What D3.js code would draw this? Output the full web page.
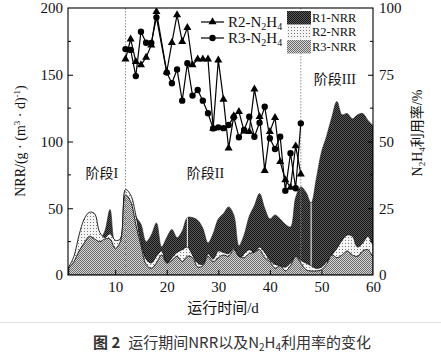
<!DOCTYPE html>
<html>
<head>
<meta charset="utf-8">
<script src="https://cdn.jsdelivr.net/npm/d3@7"></script>
<style>
  body { margin: 0; background: #fff; }
  svg { display: block; }
  .serif { font-family: "Liberation Serif", "DejaVu Serif", "Noto Sans CJK SC", serif; }
</style>
</head>
<body>
<svg id="chart" width="441" height="359"></svg>
<script>
// ---- data ----
const days = d3.range(1, 61);
const r1Nrr = [6, 12, 20, 28, 33, 32, 27, 33, 49, 24,
  27, 64, 56, 44, 38, 25, 30, 39, 21, 28,
  34, 28, 33, 43, 43, 41, 35, 24, 31, 42,
  46, 51, 45, 22, 30, 44, 52, 61, 50, 42,
  45, 42, 38, 36, 58, 66, 62, 54, 72, 92,
  104, 118, 130, 120, 121, 117, 120, 121, 116, 112];
const r2Nrr = [6, 14, 30, 42, 47, 46, 32, 28, 31, 26,
  27, 64, 60, 45, 25, 12, 9, 14, 18, 9,
  13, 17, 19, 21, 15, 9, 8, 16, 12, 18,
  17, 16, 20, 12, 16, 19, 17, 21, 17, 11,
  8, 7, 6, 9, 14, 11, 9, 7, 5, 6,
  10, 15, 20, 26, 30, 29, 21, 24, 29, 22];
const r3Nrr = [5, 10, 18, 24, 29, 27, 25, 27, 27, 20,
  25, 60, 55, 38, 22, 8, 5, 9, 15, 9,
  11, 14, 10, 14, 13, 6, 7, 14, 10, 13,
  15, 14, 19, 14, 13, 16, 17, 19, 13, 10,
  5, 7, 3, 7, 14, 9, 4, 3, 3, 4,
  8, 15, 13, 15, 18, 15, 14, 18, 19, 13];

const useDays = [12, 13, 14, 15, 16, 17, 18, 20, 21, 22, 23, 24, 25, 26, 27, 28, 29,
  30, 31, 32, 33, 34, 35, 36, 37, 38, 39, 40, 41, 42, 43, 44, 45, 46];
const r2Use = [80.8, 88.3, 79.9, 78.7, 81.5, 86.1, 98.6, 76.1, 87.0, 97.4, 87.4, 92.6, 78.7, 80.8, 80.8, 80.8, 54.9,
  80.5, 65.8, 47.5, 59.6, 61.2, 53.9, 53.7, 69.6, 59.3, 39.1, 53.7, 58.9, 42.4, 35.6, 32.8, 48.3, 37.8];
const r3Use = [84.6, 84.3, 74.5, 91.1, 87.0, 86.9, 96.5, 75.8, 71.8, 77.0, 65.3, 79.3, 67.2, 69.3, 65.3, 60.6, 54.9,
  55.3, 55.0, 56.2, 59.1, 51.6, 54.3, 59.3, 51.8, 57.0, 63.0, 51.2, 47.2, 51.8, 31.6, 45.6, 32.5, 56.8];

const xTicks = [10, 20, 30, 40, 50, 60];
const nrrTicks = [0, 50, 100, 150, 200];
const nrrMinor = [25, 75, 125, 175];
const useTicks = [0, 25, 50, 75, 100];
const useMinor = [12.5, 37.5, 62.5, 87.5];
const phaseDays = [12, 46];
const seamDays = [24, 48];
const phaseLabels = [
  { text: '阶段I', day: 7.4, nrr: 73 },
  { text: '阶段II', day: 27.5, nrr: 73 },
  { text: '阶段III', day: 52.6, nrr: 143 }
];

// ---- layout ----
const svg = d3.select('#chart');
const mLeft = 68, mRight = 373, mTop = 8, mBottom = 275;

const x = d3.scaleLinear().domain([0.85, 60]).range([mLeft, mRight]);
const yL = d3.scaleLinear().domain([0, 200]).range([mBottom, mTop]);
const yR = d3.scaleLinear().domain([0, 100]).range([mBottom, mTop]);

// patterns
const defs = svg.append('defs');
function checker(id, a, b) {
  const p = defs.append('pattern').attr('id', id)
    .attr('width', 2).attr('height', 2).attr('patternUnits', 'userSpaceOnUse');
  p.append('rect').attr('width', 2).attr('height', 2).attr('fill', a);
  p.append('rect').attr('width', 1).attr('height', 1).attr('fill', b);
  p.append('rect').attr('x', 1).attr('y', 1).attr('width', 1).attr('height', 1).attr('fill', b);
}
checker('pR1', '#5a5a5a', '#141414');
checker('pR3', '#d6d6d6', '#6a6a6a');
const pd = defs.append('pattern').attr('id', 'pR2')
  .attr('width', 3).attr('height', 3).attr('patternUnits', 'userSpaceOnUse');
pd.append('rect').attr('width', 3).attr('height', 3).attr('fill', '#f4f4f4');
pd.append('rect').attr('width', 1).attr('height', 1).attr('fill', '#7a7a7a');

defs.append('clipPath').attr('id', 'plotClip')
  .append('rect').attr('x', mLeft).attr('y', mTop)
  .attr('width', mRight - mLeft).attr('height', mBottom - mTop);

const plot = svg.append('g').attr('clip-path', 'url(#plotClip)');

// ---- NRR areas ----
const area = d3.area()
  .x((d, i) => x(days[i]))
  .y0(yL(0))
  .y1(d => yL(d))
  .curve(d3.curveCatmullRom.alpha(0.5));

plot.append('path').datum(r1Nrr).attr('d', area)
  .attr('fill', 'url(#pR1)').attr('stroke', '#222').attr('stroke-width', 0.6);
plot.append('path').datum(r2Nrr).attr('d', area)
  .attr('fill', 'url(#pR2)').attr('stroke', '#111').attr('stroke-width', 0.9);
plot.append('path').datum(r3Nrr).attr('d', area)
  .attr('fill', 'url(#pR3)').attr('stroke', '#111').attr('stroke-width', 0.9);

// white seams seen in the reference
seamDays.forEach(d => {
  plot.append('line')
    .attr('x1', x(d)).attr('x2', x(d))
    .attr('y1', yL(r2Nrr[d - 1])).attr('y2', yL(r1Nrr[d - 1]))
    .attr('stroke', '#fff').attr('stroke-width', 1);
});

// phase dividers
phaseDays.forEach(d => {
  plot.append('line')
    .attr('x1', x(d)).attr('x2', x(d))
    .attr('y1', mTop).attr('y2', mBottom)
    .attr('stroke', '#888').attr('stroke-width', 0.9)
    .attr('stroke-dasharray', '1.5,1.5');
});

// ---- N2H4 utilisation lines ----
const useLine = d3.line().x(d => x(d[0])).y(d => yR(d[1]));
const r2Pts = useDays.map((d, i) => [d, r2Use[i]]);
const r3Pts = useDays.map((d, i) => [d, r3Use[i]]);

const tri = d3.symbol(d3.symbolTriangle, 28);
const dot = d3.symbol(d3.symbolCircle, 32);

[[r2Pts, tri], [r3Pts, dot]].forEach(([pts, sym]) => {
  plot.append('path').datum(pts).attr('d', useLine)
    .attr('fill', 'none').attr('stroke', '#000').attr('stroke-width', 1.2);
  plot.selectAll(null).data(pts).join('path')
    .attr('d', sym)
    .attr('transform', d => `translate(${x(d[0])},${yR(d[1])})`)
    .attr('fill', '#000');
});

// ---- axes ----
const fontAxis = '15px';
const axL = svg.append('g').attr('class', 'serif').attr('transform', `translate(${mLeft},0)`)
  .call(d3.axisLeft(yL).tickValues(nrrTicks).tickSize(-5).tickPadding(5).tickFormat(d3.format('d')));
axL.selectAll('.tick').filter(d => d === 0 || d === 200).select('line').remove();
axL.append('g').selectAll('line').data(nrrMinor).join('line')
  .attr('x1', 0).attr('x2', 3).attr('y1', d => yL(d)).attr('y2', d => yL(d)).attr('stroke', '#000');

const axR = svg.append('g').attr('class', 'serif').attr('transform', `translate(${mRight},0)`)
  .call(d3.axisRight(yR).tickValues(useTicks).tickSize(-5).tickPadding(6).tickFormat(d3.format('d')));
axR.selectAll('.tick').filter(d => d === 0 || d === 100).select('line').remove();
axR.append('g').selectAll('line').data(useMinor).join('line')
  .attr('x1', 0).attr('x2', -3).attr('y1', d => yR(d)).attr('y2', d => yR(d)).attr('stroke', '#000');

const axB = svg.append('g').attr('class', 'serif').attr('transform', `translate(0,${mBottom})`)
  .call(d3.axisBottom(x).tickValues(xTicks).tickSize(-5).tickPadding(6).tickFormat(d3.format('d')));
axB.selectAll('.tick').filter(d => d === 60).select('line').remove();

[axL, axR, axB].forEach(a => {
  a.select('.domain').remove();
  a.selectAll('text').attr('font-size', fontAxis).attr('fill', '#111')
    .attr('font-family', '"Liberation Serif", serif');
});

svg.append('rect').attr('x', mLeft).attr('y', mTop)
  .attr('width', mRight - mLeft).attr('height', mBottom - mTop)
  .attr('fill', 'none').attr('stroke', '#000').attr('stroke-width', 1.1);

// ---- phase labels ----
phaseLabels.forEach(p => {
  svg.append('text').attr('class', 'serif')
    .attr('x', x(p.day)).attr('y', yL(p.nrr))
    .attr('text-anchor', 'middle').attr('font-size', '14px').attr('fill', '#111')
    .text(p.text);
});

// ---- axis titles ----
const tL = svg.append('text').attr('class', 'serif')
  .attr('transform', 'translate(25,141) rotate(-90)')
  .attr('text-anchor', 'middle').attr('font-size', '14px').attr('fill', '#111');
tL.append('tspan').text('NRR/(g · (m');
tL.append('tspan').attr('font-size', '9px').attr('dy', -5).text('3');
tL.append('tspan').attr('dy', 5).text(' · d)');
tL.append('tspan').attr('font-size', '9px').attr('dy', -5).text('-1');
tL.append('tspan').attr('dy', 5).text(')');

const tR = svg.append('text').attr('class', 'serif')
  .attr('transform', 'translate(422,133) rotate(-90)')
  .attr('text-anchor', 'middle').attr('font-size', '14px').attr('fill', '#111');
tR.append('tspan').text('N');
tR.append('tspan').attr('font-size', '9px').attr('dy', 3).text('2');
tR.append('tspan').attr('dy', -3).text('H');
tR.append('tspan').attr('font-size', '9px').attr('dy', 3).text('4');
tR.append('tspan').attr('dy', -3).text('利用率/%');

svg.append('text').attr('class', 'serif')
  .attr('x', 223).attr('y', 313).attr('text-anchor', 'middle')
  .attr('font-size', '15px').attr('fill', '#111').text('运行时间/d');

// ---- legend ----
const lgLines = [
  { name: 'R2', sym: tri, y: 22 },
  { name: 'R3', sym: dot, y: 38 }
];
lgLines.forEach(l => {
  svg.append('line').attr('x1', 201).attr('x2', 224).attr('y1', l.y).attr('y2', l.y)
    .attr('stroke', '#000').attr('stroke-width', 1.2);
  svg.append('path').attr('d', l.sym).attr('transform', `translate(212.5,${l.y})`).attr('fill', '#000');
  const t = svg.append('text').attr('class', 'serif').attr('x', 228).attr('y', l.y + 5)
    .attr('font-size', '15px').attr('fill', '#111');
  t.append('tspan').text(`${l.name}-N`);
  t.append('tspan').attr('font-size', '10px').attr('dy', 3).text('2');
  t.append('tspan').attr('dy', -3).text('H');
  t.append('tspan').attr('font-size', '10px').attr('dy', 3).text('4');
});

const lgAreas = [
  { name: 'R1-NRR', fill: 'url(#pR1)' },
  { name: 'R2-NRR', fill: 'url(#pR2)' },
  { name: 'R3-NRR', fill: 'url(#pR3)' }
];
lgAreas.forEach((a, i) => {
  const y0 = 10.5 + i * 14.5;
  svg.append('rect').attr('x', 287).attr('y', y0 + 0.5).attr('width', 24).attr('height', 13.5)
    .attr('fill', a.fill);
  svg.append('text').attr('class', 'serif').attr('x', 312).attr('y', y0 + 11)
    .attr('font-size', '12.5px').attr('fill', '#111').text(a.name);
});

// ---- caption ----
svg.append('line').attr('x1', 0).attr('x2', 441).attr('y1', 322.5).attr('y2', 322.5)
  .attr('stroke', '#e3e3e3').attr('stroke-width', 1);
const cap = svg.append('text').attr('x', 93).attr('y', 348)
  .attr('font-family', '"Noto Sans CJK SC", "Noto Sans", sans-serif')
  .attr('font-size', '15px').attr('fill', '#333');
cap.append('tspan').attr('font-weight', 'bold').text('图 2');
cap.append('tspan').attr('dx', 8).text('运行期间NRR以及N');
cap.append('tspan').attr('font-size', '10px').attr('dy', 3).text('2');
cap.append('tspan').attr('dy', -3).text('H');
cap.append('tspan').attr('font-size', '10px').attr('dy', 3).text('4');
cap.append('tspan').attr('dy', -3).text('利用率的变化');
</script>
</body>
</html>
